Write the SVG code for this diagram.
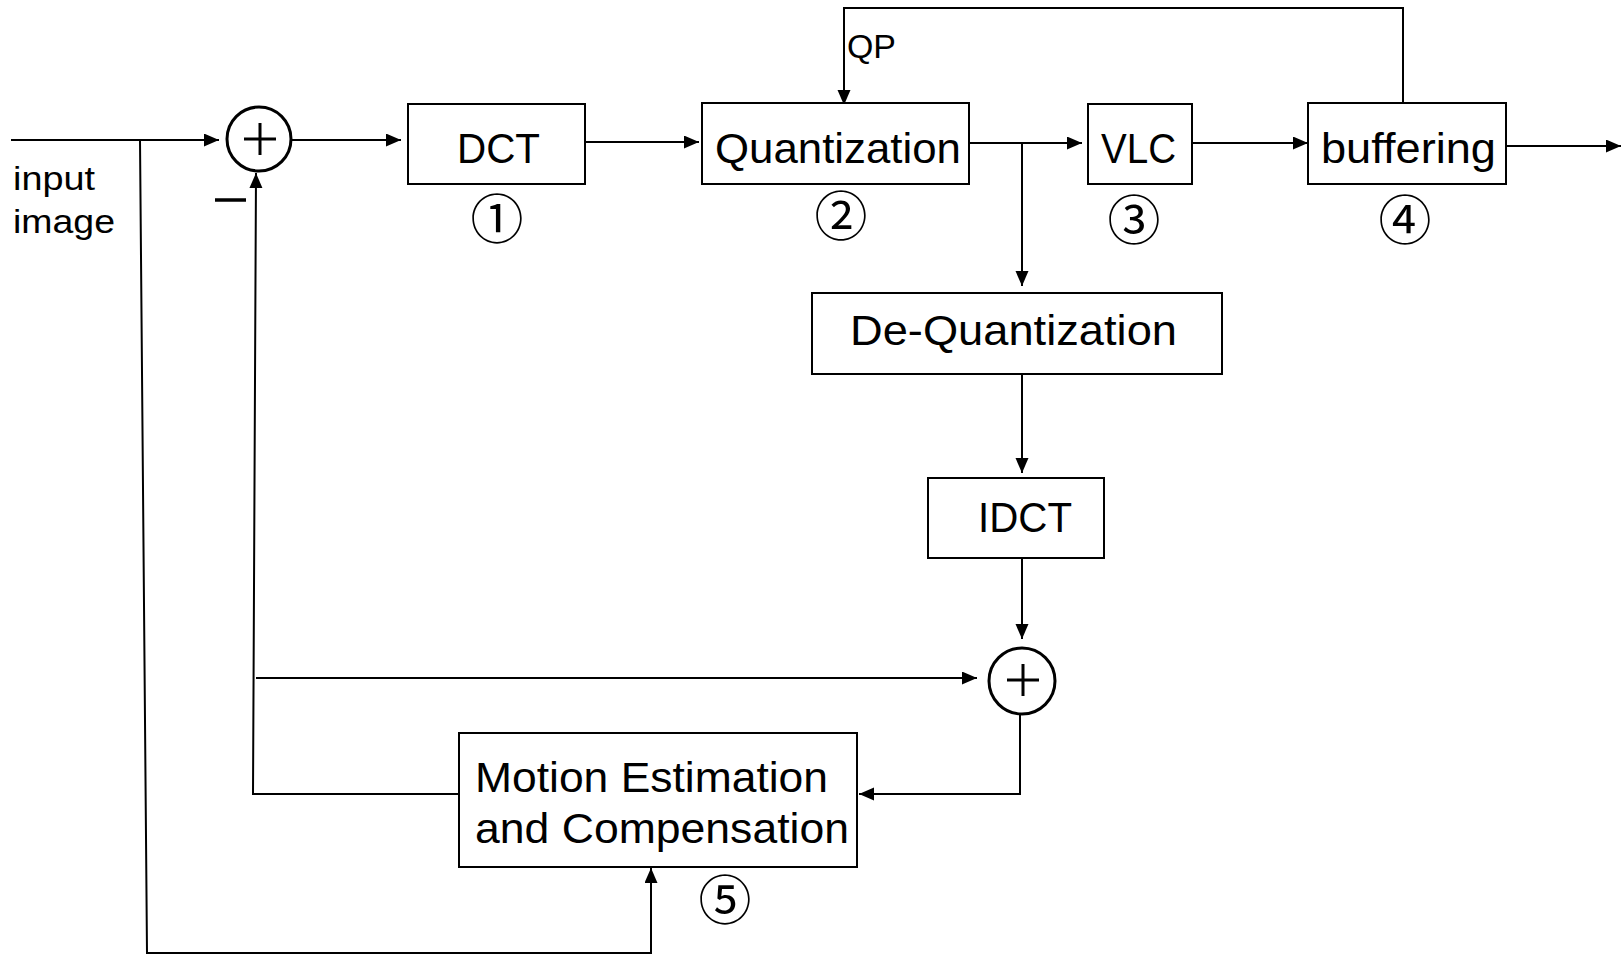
<svg xmlns="http://www.w3.org/2000/svg" width="1621" height="955" viewBox="0 0 1621 955">
  <style>
    .box { fill: #fff; stroke: #000; stroke-width: 2; }
    .sum { fill: #fff; stroke: #000; stroke-width: 3; }
    .plus { stroke: #000; stroke-width: 3; fill: none; }
    .wire { fill: none; stroke: #000; stroke-width: 2; }
    .lbl { font-family: "Liberation Sans", Arial, sans-serif; font-size: 42px; fill: #000; }
    .small { font-family: "Liberation Sans", Arial, sans-serif; font-size: 33px; fill: #000; }
    .num { font-family: "Noto Sans CJK KR", "DejaVu Sans", sans-serif; font-size: 53px; fill: #000; text-anchor: middle; dominant-baseline: central; }
  </style>
  <defs>
    <marker id="arrow" markerUnits="userSpaceOnUse" markerWidth="16" markerHeight="14" refX="15" refY="6.5" orient="auto">
      <path d="M0,0 L15,6.5 L0,13 z" fill="#000"/>
    </marker>
  </defs>
  <rect width="1621" height="955" fill="#fff"/>

  <!-- connectors -->
  <g id="connectors" class="wire">
    <path d="M11,140 H219" marker-end="url(#arrow)"/>
    <path d="M140,140 L147,953 H651 V868" marker-end="url(#arrow)"/>
    <path d="M292,140 H401" marker-end="url(#arrow)"/>
    <path d="M585,142 H699" marker-end="url(#arrow)"/>
    <path d="M969,143 H1082" marker-end="url(#arrow)"/>
    <path d="M1022,143 V286" marker-end="url(#arrow)"/>
    <path d="M1192,143 H1308" marker-end="url(#arrow)"/>
    <path d="M1506,146 H1621" marker-end="url(#arrow)"/>
    <path d="M1403,103 V8 H844 V105" marker-end="url(#arrow)"/>
    <path d="M1022,374 V473" marker-end="url(#arrow)"/>
    <path d="M1022,558 V639" marker-end="url(#arrow)"/>
    <path d="M459,794 H253 L256,173" marker-end="url(#arrow)"/>
    <path d="M256,678 H977" marker-end="url(#arrow)"/>
    <path d="M1020,714 V794 H859" marker-end="url(#arrow)"/>
  </g>

  <!-- labels on connectors -->
  <text class="small" x="13" y="190" textLength="82" lengthAdjust="spacingAndGlyphs">input</text>
  <text class="small" x="13" y="233" textLength="102" lengthAdjust="spacingAndGlyphs">image</text>
  <text class="small" x="847" y="58" textLength="49" lengthAdjust="spacingAndGlyphs">QP</text>

  <!-- subtractor -->
  <g id="sum1">
    <circle class="sum" cx="259" cy="139" r="32"/>
    <path class="plus" d="M244,139 H276 M260,123 V155"/>
    <path d="M215,200 H246" stroke="#000" stroke-width="3.5"/>
  </g>

  <g id="dct">
    <rect class="box" x="408" y="104" width="177" height="80"/>
    <text class="lbl" x="457" y="163" textLength="83" lengthAdjust="spacingAndGlyphs">DCT</text>
    <text class="num" x="497" y="216">①</text>
  </g>

  <g id="quantization">
    <rect class="box" x="702" y="103" width="267" height="81"/>
    <text class="lbl" x="715" y="163" textLength="246" lengthAdjust="spacingAndGlyphs">Quantization</text>
    <text class="num" x="841" y="213">②</text>
  </g>

  <g id="vlc">
    <rect class="box" x="1088" y="104" width="104" height="80"/>
    <text class="lbl" x="1101" y="163" textLength="75" lengthAdjust="spacingAndGlyphs">VLC</text>
    <text class="num" x="1134" y="217">③</text>
  </g>

  <g id="buffering">
    <rect class="box" x="1308" y="103" width="198" height="81"/>
    <text class="lbl" x="1321" y="163" textLength="175" lengthAdjust="spacingAndGlyphs">buffering</text>
    <text class="num" x="1405" y="217">④</text>
  </g>

  <g id="dequantization">
    <rect class="box" x="812" y="293" width="410" height="81"/>
    <text class="lbl" x="850" y="345" textLength="327" lengthAdjust="spacingAndGlyphs">De-Quantization</text>
  </g>

  <g id="idct">
    <rect class="box" x="928" y="478" width="176" height="80"/>
    <text class="lbl" x="978" y="532" textLength="94" lengthAdjust="spacingAndGlyphs">IDCT</text>
  </g>

  <g id="sum2">
    <circle class="sum" cx="1022" cy="681" r="33"/>
    <path class="plus" d="M1007,680 H1039 M1023,664 V696"/>
  </g>

  <g id="motion">
    <rect class="box" x="459" y="733" width="398" height="134"/>
    <text class="lbl" x="475" y="792" textLength="353" lengthAdjust="spacingAndGlyphs">Motion Estimation</text>
    <text class="lbl" x="475" y="843" textLength="374" lengthAdjust="spacingAndGlyphs">and Compensation</text>
    <text class="num" x="725" y="897">⑤</text>
  </g>
</svg>
